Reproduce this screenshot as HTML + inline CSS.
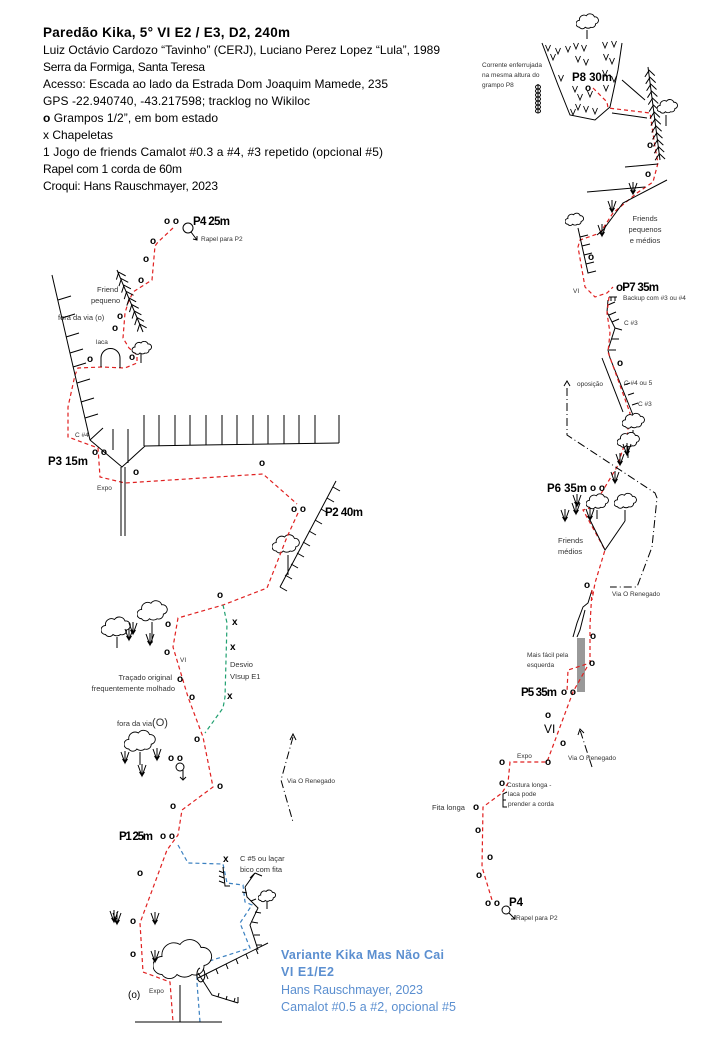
<!DOCTYPE html>
<html><head><meta charset="utf-8"><style>
html,body{margin:0;padding:0;background:#fff}
svg{display:block}
text{font-family:"Liberation Sans",sans-serif;fill:#000}
.h{font-size:12px}
.b{font-weight:bold}
.o{font-size:10px;font-weight:bold}
.s{font-size:7.5px;fill:#333}
.xs{font-size:6.5px;fill:#333}
.p{font-size:11.5px;font-weight:bold}
.bl{fill:#5b8fd0;font-size:12.5px}
.r{fill:none;stroke:#e02020;stroke-width:1.2;stroke-dasharray:4,3}
.g{fill:none;stroke:#20a070;stroke-width:1.2;stroke-dasharray:4,3}
.u{fill:none;stroke:#3a80c0;stroke-width:1.2;stroke-dasharray:4,3}
.k{fill:none;stroke:#000;stroke-width:1}
.dd{fill:none;stroke:#000;stroke-width:1;stroke-dasharray:8,3,1,3}
</style></head><body>
<svg width="720" height="1040" viewBox="0 0 720 1040" xmlns="http://www.w3.org/2000/svg">
<defs>
<symbol id="cl" viewBox="0 0 20 14"><path d="M3,12 a3,3 0 0 1 0,-6 a4,4 0 0 1 6,-4 a4,4 0 0 1 7,1 a3,3 0 0 1 1,6 a3,3 0 0 1 -4,3 a4,4 0 0 1 -5,0 a3,3 0 0 1 -5,0 z" fill="#fff" stroke="#000" stroke-width="0.9" vector-effect="non-scaling-stroke"/></symbol>
<g id="gr" fill="none" stroke="#000" stroke-width="1"><path d="M-4,-7 L0,4 L4,-7 M0,-8 L0,4 M-2.5,0 L0,4 L2.5,0"/></g>
<g id="sg" fill="none" stroke="#000" stroke-width="0.9"><path d="M-2.5,-4 L0,2 L2.5,-4"/></g>
<g id="ch" fill="none" stroke="#000" stroke-width="1"><path d="M-5,4 L0,-2 L5,4"/></g>
</defs>

<!-- Header -->
<text x="43" y="37" class="b" font-size="13.5" textLength="247">Paredão Kika, 5° VI E2 / E3, D2, 240m</text>
<text x="43" y="54" class="h" textLength="397">Luiz Octávio Cardozo “Tavinho” (CERJ), Luciano Perez Lopez “Lula”, 1989</text>
<text x="43" y="71" class="h" font-size="11.5" textLength="162">Serra da Formiga, Santa Teresa</text>
<text x="43" y="88" class="h" textLength="345">Acesso: Escada ao lado da Estrada Dom Joaquim Mamede, 235</text>
<text x="43" y="105" class="h" textLength="267">GPS -22.940740, -43.217598; tracklog no Wikiloc</text>
<text x="43" y="122" class="h" textLength="175"><tspan font-weight="bold">o</tspan> Grampos 1/2”, em bom estado</text>
<text x="43" y="139" class="h" font-size="11">x<tspan font-weight="normal"> Chapeletas</tspan></text>
<text x="43" y="156" class="h" textLength="340">1 Jogo de friends Camalot #0.3 a #4, #3 repetido (opcional #5)</text>
<text x="43" y="173" class="h" font-size="11.5" textLength="139">Rapel com 1 corda de 60m</text>
<text x="43" y="190" class="h" font-size="11.5" textLength="175">Croqui: Hans Rauschmayer, 2023</text>

<!-- ===== LEFT TOPO ===== -->
<text x="164" y="224" class="o">o o</text>
<text x="193" y="225" class="p" textLength="37">P4 25m</text>
<circle cx="188" cy="228" r="5" class="k"/>
<path d="M191,232 L197,240 M193,239 L197,240 L197,236" class="k"/>
<text x="201" y="241" class="xs">Rapel para P2</text>

<path class="r" d="M173,228 L158,242 L155,246 L152,280 L133,292 L128,303 L125,313 L123,338 L129,348 L137,355 L137,363 L125,368 L102,367 L78,368 L75,375 L68,407 L68,437 L98,448 L100,477 L125,483 L263,474 L297,504"/>
<text x="150" y="244" class="o">o</text>
<text x="143" y="262" class="o">o</text>
<text x="138" y="283" class="o">o</text>
<text x="117" y="319" class="o">o</text>
<text x="112" y="331" class="o">o</text>
<text x="87" y="362" class="o">o</text>
<text x="129" y="360" class="o">o</text>
<text x="97" y="292" class="s">Friend</text>
<text x="91" y="303" class="s">pequeno</text>
<text x="58" y="320" class="s">fora da via (o)</text>
<text x="96" y="344" class="xs">laca</text>
<path class="k" d="M101,367 L101,358 A9.5,9.5 0 0 1 120,358 L120,368"/>
<path class="k" d="M117,270 L143,332"/>
<g transform="rotate(-22 130 300)">
<use href="#ch" x="130" y="272"/><use href="#ch" x="130" y="279"/><use href="#ch" x="130" y="286"/><use href="#ch" x="130" y="293"/><use href="#ch" x="130" y="300"/><use href="#ch" x="130" y="307"/><use href="#ch" x="130" y="314"/><use href="#ch" x="130" y="321"/><use href="#ch" x="130" y="328"/>
</g>
<use href="#cl" x="131" y="341" width="22" height="14"/>
<path class="k" d="M141,354 L141,363"/>
<path class="k" d="M52,275 L90,440"/>
<path class="k" d="M58,300 l13,-4 M62,318 l13,-4 M66,337 l13,-4 M70,353 l13,-4 M73,367 l13,-4 M77,383 l13,-4 M81,402 l13,-4 M85,418 l13,-4 M90,440 L103,428"/>
<text x="75" y="437" class="xs">C #4</text>
<path class="k" d="M90,440 L122,467 L145,446 L203,445 L339,443"/>
<path class="k" d="M113,429 L113,450 M128,429 L128,463 M144,415 L144,446 M159,415 L159,446 M175,415 L175,446 M190,415 L190,445 M206,415 L206,445 M222,415 L222,445 M237,415 L237,445 M253,415 L253,444 M268,415 L268,444 M284,415 L284,444 M299,415 L299,444 M315,415 L315,443 M339,415 L339,443"/>
<path class="k" d="M121,467 L121,536 M125,467 L125,536"/>
<text x="92" y="455" class="o">o o</text>
<text x="48" y="465" class="p" textLength="40">P3 15m</text>
<text x="133" y="475" class="o">o</text>
<text x="97" y="490" class="xs">Expo</text>
<text x="259" y="466" class="o">o</text>
<text x="291" y="512" class="o">o o</text>
<text x="325" y="516" class="p" textLength="38">P2 40m</text>
<path class="k" d="M336,481 L280,587"/>
<path class="k" d="M333,487 l7,4 M327,498 l7,4 M321,509 l7,4 M315,520 l7,4 M309,531 l7,4 M303,542 l7,4 M297,553 l7,4 M291,564 l7,4 M285,575 l7,4 M280,587 l7,4"/>
<use href="#cl" x="272" y="533" width="28" height="22"/>
<path class="k" d="M288,555 L288,575"/>
<path class="r" d="M298,513 L287,537 L267,588 L223,605 L178,618 L173,647 L188,697 L203,737 L213,787 L182,810 L178,835 L167,850 L140,923 L143,972 L170,982 L173,1022"/>
<path class="g" d="M223,605 L227,623 L225,697 L223,708 L205,733"/>
<text x="232" y="625" class="o">x</text>
<text x="230" y="650" class="o">x</text>
<text x="227" y="699" class="o">x</text>
<text x="230" y="667" class="s">Desvio</text>
<text x="230" y="679" class="s">VIsup E1</text>
<text x="217" y="598" class="o">o</text>
<text x="165" y="627" class="o">o</text>
<text x="164" y="655" class="o">o</text>
<text x="177" y="682" class="o">o</text>
<text x="189" y="700" class="o">o</text>
<text x="194" y="742" class="o">o</text>
<text x="217" y="789" class="o">o</text>
<text x="170" y="809" class="o">o</text>
<text x="180" y="662" class="xs">VI</text>
<text x="172" y="680" class="s" text-anchor="end">Traçado original</text>
<text x="175" y="691" class="s" text-anchor="end">frequentemente molhado</text>
<use href="#cl" x="101" y="616" width="30" height="22"/>
<path class="k" d="M117,637 L117,648"/>
<use href="#cl" x="137" y="599" width="31" height="24"/>
<path class="k" d="M152,622 L152,643"/>
<use href="#gr" x="133" y="630"/><use href="#gr" x="150" y="641"/><use href="#gr" x="129" y="636"/>
<text x="117" y="726" class="s" font-size="8.5">fora da via<tspan font-size="11">(O)</tspan></text>
<use href="#cl" x="124" y="729" width="32" height="24"/>
<path class="k" d="M140,752 L140,765"/>
<use href="#gr" x="125" y="759"/><use href="#gr" x="157" y="756"/><use href="#gr" x="142" y="772"/>
<text x="168" y="761" class="o">o o</text>
<circle cx="180" cy="767" r="4" class="k"/>
<path class="k" d="M183,770 L183,780 M180,777 L183,780 L186,777"/>
<path class="dd" d="M293,737 L281,780 L293,822"/>
<path class="k" d="M290,740 L293,734 L296,740"/>
<text x="287" y="783" class="xs">Via O Renegado</text>
<text x="119" y="840" class="p" textLength="34">P1 25m</text>
<text x="160" y="839" class="o">o o</text>
<text x="137" y="876" class="o">o</text>
<text x="130" y="924" class="o">o</text>
<text x="130" y="957" class="o">o</text>
<text x="128" y="998" font-size="10">(o)</text>
<text x="149" y="993" class="xs">Expo</text>
<use href="#gr" x="114" y="918"/><use href="#gr" x="117" y="920"/><use href="#gr" x="155" y="920"/>
<path class="u" d="M178,845 L188,863 L223,864 L227,883 L243,885 L245,902 L252,905 L240,923 L250,948 L197,965 L197,983 L200,1022"/>
<text x="223" y="862" class="o">x</text>
<text x="240" y="861" class="s">C #5 ou laçar</text>
<text x="240" y="872" class="s">bico com fita</text>
<path class="k" d="M223,867 L225,886 L230,886 M219,871 l5,2 M219,876 l5,2 M219,881 l5,2"/>
<path class="k" d="M245,887 L247,897 L258,908 L250,925 L258,950 M245,887 L255,873 M255,873 L250,878 M255,873 L262,876"/>
<path class="k" d="M247,893 l-5,-1 M251,901 l5,-2 M255,912 l6,1 M252,922 l6,1 M254,935 l6,0 M256,945 l6,0"/>
<use href="#cl" x="258" y="889" width="18" height="14"/>
<path class="k" d="M267,902 L267,909"/>
<use href="#cl" x="153" y="933" width="60" height="53"/>
<path class="k" d="M180,985 L180,1022 M135,1022 L222,1022"/>
<path class="k" d="M198,978 L268,943 M206,974 l2,5 M216,969 l2,5 M226,964 l2,5 M236,959 l2,5 M246,954 l2,5 M256,949 l2,5"/>
<path class="k" d="M198,973 L212,995 L238,1003 M218,997 l1,-4 M226,1000 l1,-4 M234,1002 l1,-4 M238,1003 L238,997"/>
<path class="k" d="M200,968 a4,7 0 1 0 3,1"/>
<use href="#gr" x="155" y="958"/>
<text x="281" y="959" class="bl b" textLength="163">Variante Kika Mas Não Cai</text>
<text x="281" y="976" class="bl b" textLength="53">VI E1/E2</text>
<text x="281" y="994" class="bl" textLength="142">Hans Rauschmayer, 2023</text>
<text x="281" y="1011" class="bl" textLength="175">Camalot #0.5 a #2, opcional #5</text>

<!-- ===== RIGHT TOPO ===== -->
<use href="#cl" x="576" y="12" width="23" height="19"/>
<path class="k" d="M587,30 L587,39"/>
<path class="k" d="M542,43 L558,85 L570,115 L595,120 L610,107 L618,70 L622,43"/>
<use href="#sg" x="548" y="49"/><use href="#sg" x="558" y="52"/><use href="#sg" x="568" y="50"/><use href="#sg" x="576" y="47"/><use href="#sg" x="584" y="49"/><use href="#sg" x="605" y="46"/><use href="#sg" x="614" y="45"/>
<use href="#sg" x="553" y="58"/><use href="#sg" x="578" y="60"/><use href="#sg" x="586" y="63"/><use href="#sg" x="606" y="58"/><use href="#sg" x="612" y="62"/>
<use href="#sg" x="561" y="79"/><use href="#sg" x="605" y="74"/><use href="#sg" x="614" y="80"/>
<use href="#sg" x="575" y="90"/><use href="#sg" x="590" y="95"/><use href="#sg" x="606" y="89"/><use href="#sg" x="580" y="98"/>
<use href="#sg" x="578" y="108"/><use href="#sg" x="586" y="110"/><use href="#sg" x="595" y="112"/><use href="#sg" x="573" y="113"/>
<text x="572" y="81" class="p" textLength="40">P8 30m</text>
<text x="585" y="91" class="o">o</text>
<text x="482" y="67" class="xs" font-size="6">Corrente enferrujada</text>
<text x="482" y="77" class="xs" font-size="6">na mesma altura do</text>
<text x="482" y="87" class="xs" font-size="6">grampo P8</text>
<path class="k" d="M538,84 L538,113"/>
<ellipse cx="538" cy="87" rx="2.5" ry="2" class="k"/><ellipse cx="538" cy="91" rx="2.5" ry="2" class="k"/><ellipse cx="538" cy="95" rx="2.5" ry="2" class="k"/><ellipse cx="538" cy="99" rx="2.5" ry="2" class="k"/><ellipse cx="538" cy="103" rx="2.5" ry="2" class="k"/><ellipse cx="538" cy="107" rx="2.5" ry="2" class="k"/><ellipse cx="538" cy="111" rx="2.5" ry="2" class="k"/>
<path class="r" d="M593,88 L607,102 L608,108 L650,113 L655,147 L658,163 L653,182 L637,193 L613,213 L600,233 L580,240 L578,247 L585,287 L595,297 L607,293 L613,287"/>
<path class="k" d="M648,67 L660,160"/>
<g transform="rotate(-7 654 110)">
<use href="#ch" x="654" y="72"/><use href="#ch" x="654" y="79"/><use href="#ch" x="654" y="86"/><use href="#ch" x="654" y="93"/><use href="#ch" x="654" y="100"/><use href="#ch" x="654" y="107"/><use href="#ch" x="654" y="114"/><use href="#ch" x="654" y="121"/><use href="#ch" x="654" y="128"/><use href="#ch" x="654" y="135"/><use href="#ch" x="654" y="142"/><use href="#ch" x="654" y="149"/><use href="#ch" x="654" y="156"/>
</g>
<use href="#cl" x="657" y="97" width="21" height="19"/>
<path class="k" d="M666,115 L666,126"/>
<path class="k" d="M622,80 L645,100 M612,113 L647,118 M625,167 L658,164 M587,192 L645,187 M667,180 L623,203 L603,230 L597,235"/>
<use href="#gr" x="633" y="190"/><use href="#gr" x="612" y="208"/><use href="#gr" x="602" y="232"/>
<text x="647" y="148" class="o">o</text>
<text x="645" y="177" class="o">o</text>
<text x="645" y="221" class="s" text-anchor="middle">Friends</text>
<text x="645" y="232" class="s" text-anchor="middle">pequenos</text>
<text x="645" y="243" class="s" text-anchor="middle">e médios</text>
<use href="#cl" x="565" y="211" width="19" height="17"/>
<path class="k" d="M578,228 L588,273 L596,271 M580,237 l8,-2 M582,246 l8,-2 M584,255 l8,-2 M586,264 l8,-2"/>
<text x="588" y="260" class="o">o</text>
<text x="573" y="293" class="xs">VI</text>
<text x="616" y="291" class="p" textLength="43">oP7 35m</text>
<text x="623" y="300" class="xs" font-size="7">Backup com #3 ou #4</text>
<path class="k" d="M609,297 L617,297 M611,297 L611,301 M615,297 L615,301"/>
<path class="k" d="M608,300 L607,312 L615,328 L608,350 L610,358 M608,305 l7,-3 M609,315 l7,-3 M612,322 l7,-3 M615,328 l7,2 M612,339 l7,0 M609,350 l7,0"/>
<text x="624" y="325" class="xs" font-size="7">C #3</text>
<path class="k" d="M602,358 L623,412 M610,358 L633,415 M624,385 l6,-2 M628,395 l6,-2 M632,405 l6,-2"/>
<path class="r" d="M609,297 L607,313 L610,333 L608,352 L617,377 L630,413 L627,437 L617,467 L593,507 L583,510 L605,550 L595,583 L592,600"/>
<text x="617" y="366" class="o">o</text>
<text x="624" y="385" class="xs" font-size="7">C #4 ou 5</text>
<text x="638" y="406" class="xs" font-size="7">C #3</text>
<text x="577" y="386" class="xs" font-size="7">oposição</text>
<path class="dd" d="M567,388 L567,435 L655,493 L657,498 L652,547 L637,587 L610,587"/>
<path class="k" d="M564,386 L567,381 L570,386"/>
<use href="#cl" x="622" y="412" width="23" height="18"/>
<path class="k" d="M633,430 L633,437"/>
<use href="#cl" x="617" y="432" width="23" height="16"/>
<path class="k" d="M628,447 L628,458"/>
<use href="#gr" x="627" y="451"/><use href="#gr" x="620" y="461"/><use href="#gr" x="615" y="479"/>
<text x="547" y="492" class="p" textLength="40">P6 35m</text>
<text x="590" y="491" class="o">o o</text>
<use href="#cl" x="586" y="492" width="23" height="19"/>
<path class="k" d="M597,510 L597,519"/>
<use href="#cl" x="614" y="491" width="23" height="20"/>
<path class="k" d="M625,510 L625,521 M590,520 L605,550 L625,521"/>
<use href="#gr" x="577" y="502"/><use href="#gr" x="576" y="510"/><use href="#gr" x="565" y="517"/><use href="#gr" x="590" y="516"/>
<text x="558" y="543" class="s">Friends</text>
<text x="558" y="554" class="s">médios</text>
<text x="584" y="588" class="o">o</text>
<text x="612" y="596" class="xs">Via O Renegado</text>
<path class="k" d="M592,590 L588,603 L583,607 L577,623 L573,637 M585,610 L580,630 L577,637"/>
<rect x="577" y="638" width="8" height="54" fill="#999"/>
<path class="r" d="M592,590 L590,625 L590,663 L568,670 L567,692 M587,667 L573,692 L547,762 L510,762 L508,783 L502,793 L483,807 L482,867 L492,900"/>
<text x="590" y="639" class="o">o</text>
<text x="589" y="666" class="o">o</text>
<text x="527" y="657" class="xs" font-size="7">Mais fácil pela</text>
<text x="527" y="667" class="xs" font-size="7">esquerda</text>
<text x="521" y="696" class="p" textLength="36">P5 35m</text>
<text x="561" y="695" class="o">o o</text>
<text x="545" y="718" class="o">o</text>
<text x="544" y="733" font-size="12">VI</text>
<text x="560" y="746" class="o">o</text>
<text x="499" y="765" class="o">o</text>
<text x="517" y="758" class="xs">Expo</text>
<text x="545" y="765" class="o">o</text>
<path class="dd" d="M592,767 L580,730"/>
<path class="k" d="M578,735 L580,729 L584,733"/>
<text x="568" y="760" class="xs">Via O Renegado</text>
<text x="499" y="786" class="o">o</text>
<text x="507" y="787" class="xs">Costura longa -</text>
<text x="508" y="796" class="xs">laca pode</text>
<text x="508" y="806" class="xs">prender a corda</text>
<path class="k" d="M507,792 L503,794 L503,807 L507,807 M503,800 L506,800"/>
<text x="432" y="810" class="s">Fita longa</text>
<text x="473" y="810" class="o">o</text>
<text x="475" y="833" class="o">o</text>
<text x="487" y="860" class="o">o</text>
<text x="476" y="878" class="o">o</text>
<text x="485" y="906" class="o">o o</text>
<text x="509" y="906" class="p">P4</text>
<circle cx="506" cy="910" r="4" class="k"/>
<path class="k" d="M509,913 L515,919 M511,919 L515,919 L515,915"/>
<text x="516" y="920" class="xs">Rapel para P2</text>
</svg>
</body></html>
